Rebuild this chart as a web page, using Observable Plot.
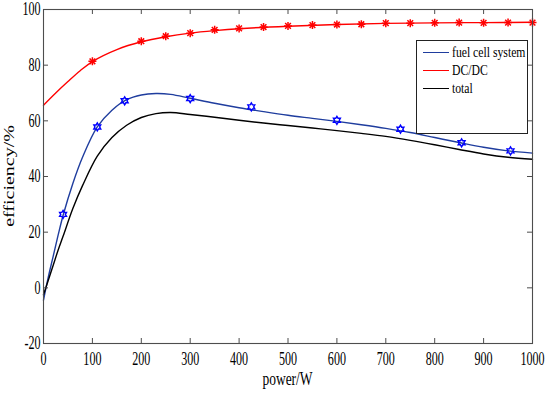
<!DOCTYPE html>
<html><head><meta charset="utf-8">
<script src="https://cdn.jsdelivr.net/npm/d3@7"></script>
<script src="https://cdn.jsdelivr.net/npm/@observablehq/plot@0.6"></script>
<style>
body{margin:0;background:#fff;}
#wrap{position:relative;width:550px;height:394px;overflow:hidden;}
#legend{position:absolute;left:416px;top:40px;width:112px;height:94px;border:1px solid #222;background:#fff;font-family:"Liberation Serif";font-size:15px;color:#000;box-sizing:border-box;}
.row{position:absolute;left:0;height:18px;width:200px;}
.sw{position:absolute;left:6px;top:8px;width:26px;height:0;border-top:1.6px solid;}
.lb{position:absolute;left:35px;top:-1px;display:inline-block;transform:scaleX(0.78);transform-origin:left center;white-space:nowrap;line-height:18px;}
</style></head><body><div id="wrap"></div>
<script>
// axis ticks
const xTicks = [0,100,200,300,400,500,600,700,800,900,1000];
const yTicks = [-20,0,20,40,60,80,100];

// DC/DC measured points
const dcPower = [100,200,250,300,350,400,450,500,550,600,650,700,750,800,850,900,950,1000];
const dcEff   = [81.4,88.6,90.4,91.5,92.7,93.2,93.7,94.1,94.4,94.6,94.7,95.1,95.1,95.2,95.3,95.2,95.3,95.3];
// DC/DC fitted curve
const dcCurvePower = [0,25,50,75,100,150,200,250,300,350,400,500,600,700,800,900,1000];
const dcCurveEff   = [65.6,70.0,74.1,78.0,81.3,85.6,88.4,90.2,91.5,92.4,93.1,94.0,94.6,95.0,95.2,95.3,95.4];

// fuel cell system measured points
const fcPower = [40,110,166,300,425,600,730,855,955];
const fcEff   = [26.4,57.8,67.2,68.0,65.0,60.2,57.0,52.1,49.2];
// fitted curves (fuel cell system, total)
const curvePower = [0,10,20,30,40,60,80,110,140,170,200,230,260,300,350,400,450,500,550,600,650,700,750,800,850,900,950,1000];
const fcCurveEff = [-4.4,4.0,11.5,19.0,26.0,37.5,47.0,57.8,63.8,67.6,69.3,69.8,69.5,68.1,66.3,64.7,63.3,62.0,60.9,59.8,58.6,57.3,55.8,54.0,52.2,50.5,49.2,48.4];
const totalEff   = [-2.5,2.8,8.2,13.6,18.5,28.5,36.8,47.3,54.0,58.4,61.2,62.6,63.0,62.3,61.3,60.2,59.2,58.3,57.4,56.5,55.5,54.4,53.0,51.4,49.7,48.1,46.9,46.2];

const seriesNames = ["fuel cell system","DC/DC","total"];
const seriesColors = ["#1f3d9e","#ff0000","#000000"];

const dcPts = dcPower.map((p,i)=>({p, e: dcEff[i]}));
const dcLine = dcCurvePower.map((p,i)=>({p, e: dcCurveEff[i]}));
const fcPts = fcPower.map((p,i)=>({p, e: fcEff[i]}));
const fcLine = curvePower.map((p,i)=>({p, e: fcCurveEff[i]}));
const totLine = curvePower.map((p,i)=>({p, e: totalEff[i]}));

// hexagram symbol (MATLAB 'h')
const hexagram = {
  draw(ctx, size) {
    const R = Math.sqrt(size/Math.PI), r = R/Math.sqrt(3);
    for (let k=0;k<12;k++){
      const a = -Math.PI/2 + k*Math.PI/6;
      const rr = k%2===0 ? R : r;
      const x = rr*Math.cos(a), y = rr*Math.sin(a);
      if (k===0) ctx.moveTo(x,y); else ctx.lineTo(x,y);
    }
    ctx.closePath();
  }
};

const W = 550, H = 394, mL = 43, mR = 18, mT = 9, mB = 51;
const plotW = W - mL - mR, plotH = H - mT - mB;
const axisGray = "#4d4d4d";

const chart = Plot.plot({
  width: W, height: H,
  marginLeft: mL, marginRight: mR, marginTop: mT, marginBottom: mB,
  style: {fontFamily: "Liberation Serif", fontSize: "18px", color: "#000", background: "#fff"},
  x: {domain: [0,1000], label: null},
  y: {domain: [-20,100], label: null},
  marks: [
    Plot.line(dcLine, {x:"p", y:"e", stroke: seriesColors[1], strokeWidth: 1.4, curve: "catmull-rom"}),
    Plot.line(fcLine, {x:"p", y:"e", stroke: seriesColors[0], strokeWidth: 1.4, curve: "catmull-rom"}),
    Plot.line(totLine, {x:"p", y:"e", stroke: seriesColors[2], strokeWidth: 1.4, curve: "catmull-rom"}),
    Plot.dot(dcPts, {x:"p", y:"e", symbol:"plus", r: 2.7, stroke:"#ff0000", strokeWidth: 1.5}),
    Plot.dot(dcPts, {x:"p", y:"e", symbol:"times", r: 2.7, stroke:"#ff0000", strokeWidth: 1.5}),
    Plot.dot(fcPts, {x:"p", y:"e", symbol: hexagram, r: 4, fill:"none", stroke:"#0000ff", strokeWidth: 1.4}),
    Plot.frame({stroke: axisGray, strokeWidth: 1.1}),
    Plot.tickX(xTicks, {x: d=>d, insetTop: plotH-5, stroke: axisGray}),
    Plot.tickX(xTicks, {x: d=>d, insetBottom: plotH-5, stroke: axisGray}),
    Plot.tickY(yTicks, {y: d=>d, insetRight: plotW-5, stroke: axisGray}),
    Plot.tickY(yTicks, {y: d=>d, insetLeft: plotW-5, stroke: axisGray}),
    Plot.axisX({ticks: xTicks, tickSize: 0, tickPadding: 9, tickFormat: d=>String(d), fill:"#000"}),
    Plot.axisY({ticks: yTicks, tickSize: 0, tickPadding: 3, tickFormat: d=>String(d), fill:"#000"})
  ]
});

const wrap = document.getElementById("wrap");
wrap.appendChild(chart);

// condense tick labels horizontally to match the reference's narrow glyphs
d3.select(chart).selectAll("text").each(function(){
  const w = this.getComputedTextLength();
  if (w > 0) { this.setAttribute("textLength", w*0.67); this.setAttribute("lengthAdjust","spacingAndGlyphs"); }
});

const svg = d3.select(chart);
const xl = svg.append("text").attr("x", mL + plotW/2).attr("y", 385)
  .attr("text-anchor","middle").attr("font-family","Liberation Serif").attr("font-size", 18).attr("fill","#000")
  .text("power/W");
const xn = xl.node(); xn.setAttribute("textLength", xn.getComputedTextLength()*0.75); xn.setAttribute("lengthAdjust","spacingAndGlyphs");

svg.append("text").attr("transform", `translate(14,${mT+plotH/2}) rotate(-90) scale(1,0.75)`)
  .attr("text-anchor","middle").attr("font-family","Liberation Serif").attr("font-size", 20).attr("fill","#000")
  .text("efficiency/%");

// legend
const lg = document.createElement("div");
lg.id = "legend";
seriesNames.forEach((name,i)=>{
  const row = document.createElement("div");
  row.className = "row";
  row.style.top = (3 + i*18) + "px";
  const sw = document.createElement("div"); sw.className="sw"; sw.style.borderTopColor = seriesColors[i];
  const lb = document.createElement("span"); lb.className="lb"; lb.textContent = name;
  row.appendChild(sw); row.appendChild(lb); lg.appendChild(row);
});
wrap.appendChild(lg);
</script></body></html>
